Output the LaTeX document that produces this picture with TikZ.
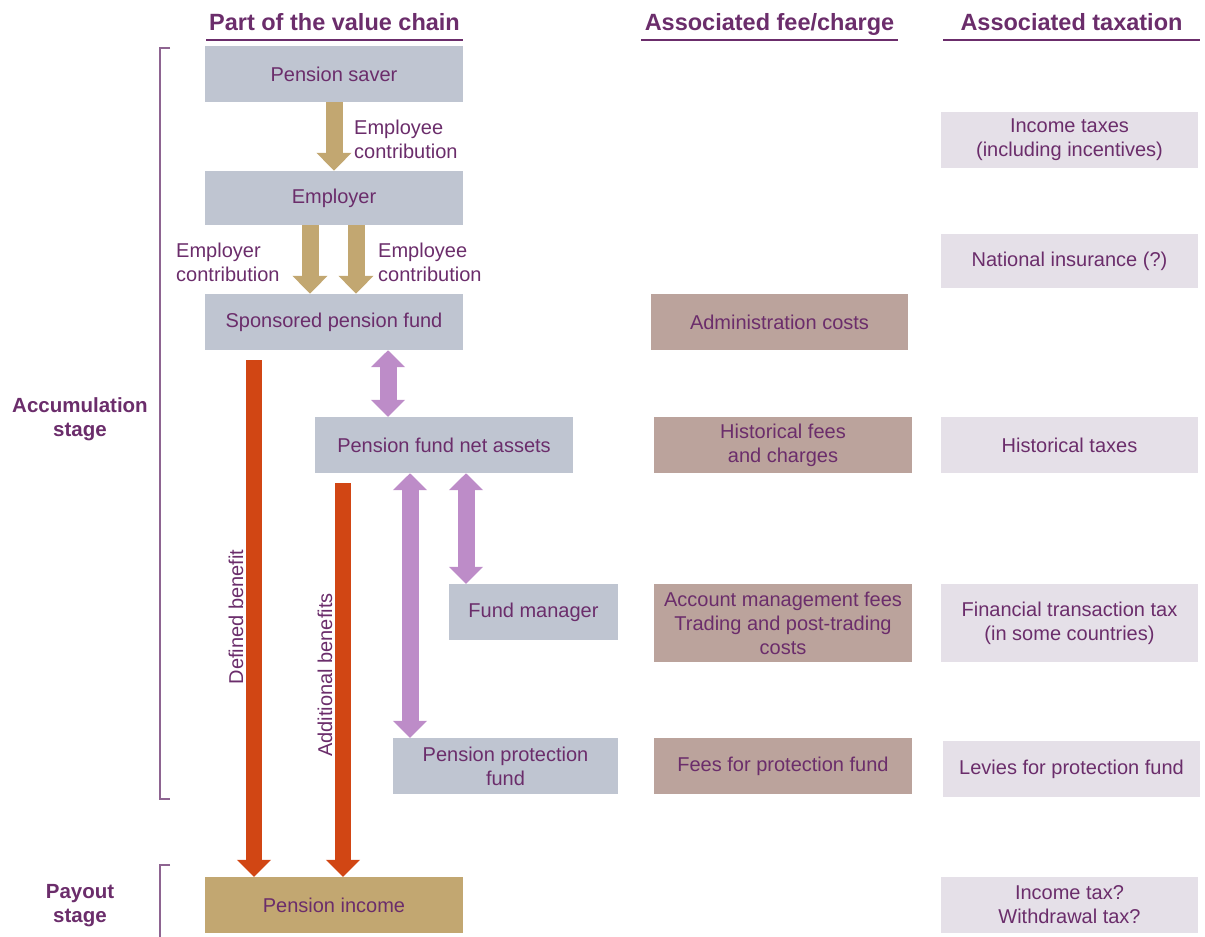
\documentclass[tikz,border=0pt]{standalone}
\usepackage{fontspec}
\setmainfont{Liberation Sans}
\usetikzlibrary{arrows.meta}
\definecolor{chaingrey}{HTML}{BFC5D1}
\definecolor{incometan}{HTML}{C2A771}
\definecolor{benefitred}{HTML}{D14614}
\definecolor{flowlav}{HTML}{BD8CC8}
\definecolor{feerose}{HTML}{BBA39C}
\definecolor{taxlilac}{HTML}{E5E0E8}
\definecolor{plum}{HTML}{6B2D6B}
\definecolor{bracketplum}{HTML}{8E6491}
\newcommand{\boxfont}{\fontsize{20}{24}\selectfont}
\newcommand{\headfont}{\fontsize{23.5}{28}\selectfont\bfseries}
\newcommand{\stagefont}{\fontsize{20.5}{24}\selectfont\bfseries}
\begin{document}
\begin{tikzpicture}[x=1pt, y=-1pt,
    box/.style={fill=chaingrey, text=plum, font=\boxfont, align=center, inner sep=0pt, minimum width=258pt, minimum height=56pt},
    feebox/.style={box, fill=feerose},
    taxbox/.style={box, fill=taxlilac, minimum width=257pt},
    label/.style={text=plum, font=\boxfont, align=left, inner sep=0pt},
    header/.style={text=plum, font=\headfont, inner sep=0pt, anchor=base},
    rule/.style={draw=plum, line width=2pt},
    bracket/.style={draw=bracketplum, line width=1.8pt},
    tanarrow/.style={draw=incometan, line width=17pt, -{Triangle[width=34pt,length=18pt]}},
    redarrow/.style={draw=benefitred, line width=16pt, -{Triangle[width=33pt,length=17pt]}},
    lavarrow/.style={draw=flowlav, line width=17pt, {Triangle[width=33pt,length=17pt]}-{Triangle[width=33pt,length=17pt]}}]
    \useasboundingbox (0,0) rectangle (1205,937);
    % column headers
    \node[header] (hchain) at (334.5,30) {Part of the value chain};
    \node[header] (hfee) at (769.5,30) {Associated fee/charge};
    \node[header] (htax) at (1071.5,30) {Associated taxation};
    \draw[rule] ([yshift=-10pt]hchain.base -| 206,0) -- ([yshift=-10pt]hchain.base -| 463,0);
    \draw[rule] ([yshift=-10pt]hfee.base -| 641,0) -- ([yshift=-10pt]hfee.base -| 898,0);
    \draw[rule] ([yshift=-10pt]htax.base -| 943,0) -- ([yshift=-10pt]htax.base -| 1200,0);
    % stages
    \draw[bracket] (170,48) -- (160,48) -- (160,799) -- (170,799);
    \draw[bracket] (170,865) -- (160,865) -- (160,937);
    \node[text=plum, font=\stagefont, align=center, inner sep=0pt] (accum) at (80,419) {Accumulation\\stage};
    \node[text=plum, font=\stagefont, align=center, inner sep=0pt] (payout) at (80,906) {Payout\\stage};
    % value chain
    \node[box] (saver) at (334,74) {Pension saver};
    \node[box, minimum height=54pt] (employer) at (334,198) {Employer};
    \node[box] (sponsored) at (334,322) {Sponsored pension fund};
    \node[box] (netassets) at (444,445) {Pension fund net assets};
    \node[box, minimum width=169pt] (fundmgr) at (533.5,612) {Fund manager};
    \node[box, minimum width=225pt] (protection) at (505.5,766) {Pension protection\\fund};
    \node[box, fill=incometan] (income) at (334,905) {Pension income};
    % fees
    \node[feebox, minimum width=257pt] (admin) at (779.5,322) {Administration costs};
    \node[feebox] (histfees) at (783,445) {Historical fees\\and charges};
    \node[feebox, minimum height=78pt] (account) at (783,623) {Account management fees\\Trading and post-trading\\costs};
    \node[feebox] (feesprot) at (783,766) {Fees for protection fund};
    % taxation
    \node[taxbox] (inctaxes) at (1069.5,140) {Income taxes\\(including incentives)};
    \node[taxbox, minimum height=54pt] (natins) at (1069.5,261) {National insurance (?)};
    \node[taxbox] (histtax) at (1069.5,445) {Historical taxes};
    \node[taxbox, minimum height=78pt] (fintax) at (1069.5,623) {Financial transaction tax\\(in some countries)};
    \node[taxbox] (levies) at (1071.5,769) {Levies for protection fund};
    \node[taxbox] (payouttax) at (1069.5,905) {Income tax?\\Withdrawal tax?};
    % contributions
    \draw[tanarrow] (saver.south) -- (employer.north);
    \draw[tanarrow] ([xshift=-24pt]employer.south) -- ([xshift=-24pt]sponsored.north);
    \draw[tanarrow] ([xshift=22pt]employer.south) -- ([xshift=22pt]sponsored.north);
    \node[label, anchor=west] (eecontrib) at (354,139) {Employee\\contribution};
    \node[label, anchor=west] (ercontrib) at (176,262) {Employer\\contribution};
    \node[label, anchor=west] (eecontrib2) at (378,262) {Employee\\contribution};
    % asset flows
    \draw[lavarrow] ([xshift=54pt]sponsored.south) -- ([xshift=54pt]sponsored.south |- netassets.north);
    \draw[lavarrow] ([xshift=-34pt]netassets.south) -- ([xshift=-34pt]netassets.south |- protection.north);
    \draw[lavarrow] ([xshift=22pt]netassets.south) -- ([xshift=22pt]netassets.south |- fundmgr.north);
    % benefits
    \coordinate (dbtop) at ([xshift=-80pt,yshift=-10pt]sponsored.south);
    \coordinate (abtop) at (343,483);
    \draw[redarrow] (dbtop) -- (dbtop |- income.north);
    \draw[redarrow] (abtop) -- (abtop |- income.north);
    \node[label, rotate=90] (dblabel) at (236,617) {Defined benefit};
    \node[label, rotate=90] (ablabel) at (325,675) {Additional benefits};
\end{tikzpicture}
\end{document}
